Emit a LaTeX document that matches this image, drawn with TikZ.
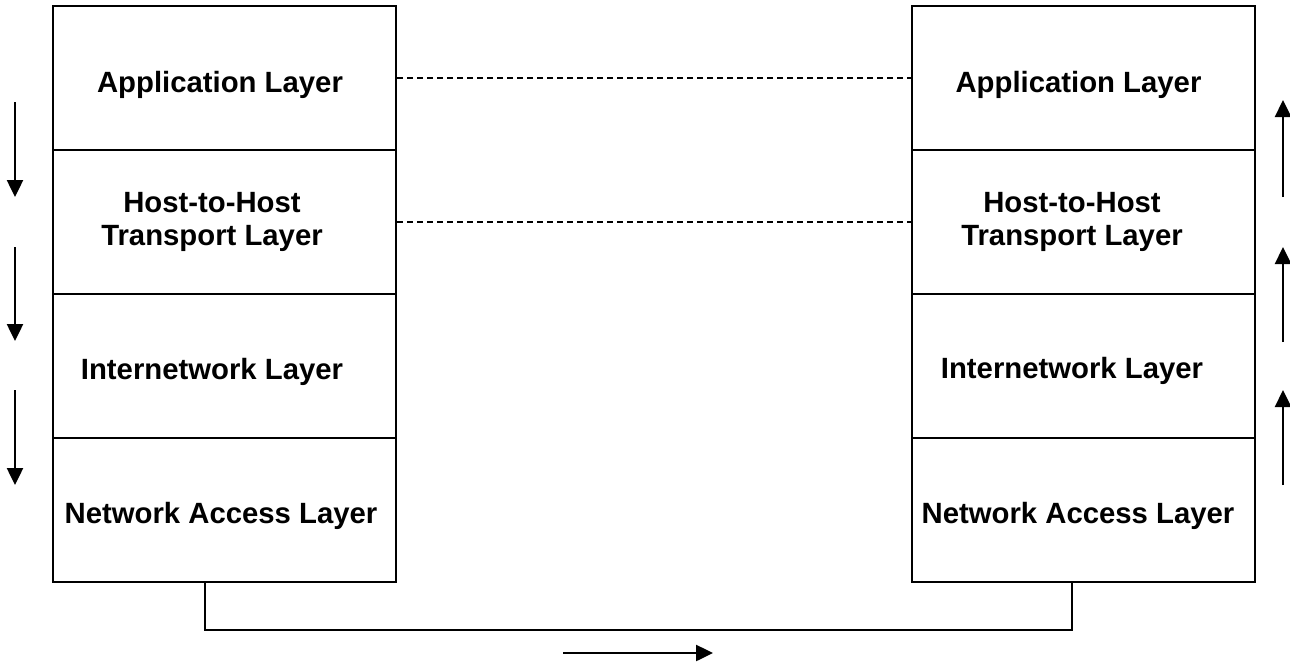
\documentclass[tikz,border=0pt]{standalone}
\usepackage{fontspec}
\setmainfont{Liberation Sans}
\usetikzlibrary{arrows.meta}
\begin{document}
\begin{tikzpicture}[x=1pt,y=-1pt,
  layer/.style={draw, line width=2pt, minimum width=343pt, minimum height=144pt, inner sep=0pt},
  txt/.style={anchor=base, inner sep=0pt, font=\fontsize{29.3}{33}\selectfont\bfseries},
  peer/.style={line width=1.2pt, dash pattern=on 6pt off 4pt},
  flow/.style={line width=2.5pt, -{Triangle[length=17pt,width=16pt]}},
  wire/.style={line width=2pt}]
\useasboundingbox (0,0) rectangle (1290,664);
% left stack
\node[layer] (l1) at (224.5,78)  {};
\node[layer] (l2) at (224.5,222) {};
\node[layer] (l3) at (224.5,366) {};
\node[layer] (l4) at (224.5,510) {};
\node[txt] (tl1)  at (220,92)  {Application Layer};
\node[txt] (tl2a) at (212,212) {Host-to-Host};
\node[txt] (tl2b) at (212,245) {Transport Layer};
\node[txt] (tl3)  at (212,379) {Internetwork Layer};
\node[txt] (tl4)  at (221,523) {Network Access Layer};
% right stack
\node[layer] (r1) at (1083,78)  {};
\node[layer] (r2) at (1083,222) {};
\node[layer] (r3) at (1083,366) {};
\node[layer] (r4) at (1083,510) {};
\node[txt] (tr1)  at (1078.5,92) {Application Layer};
\node[txt] (tr2a) at (1072,212)  {Host-to-Host};
\node[txt] (tr2b) at (1072,245)  {Transport Layer};
\node[txt] (tr3)  at (1072,378)  {Internetwork Layer};
\node[txt] (tr4)  at (1078,523)  {Network Access Layer};
% peer links
\draw[peer] (l1.east) -- (r1.west);
\draw[peer] (l2.east) -- (r2.west);
% physical link
\coordinate (b1) at (205,582);
\coordinate (b2) at (1072,582);
\coordinate (bb) at (1072,630);
\draw[wire] (b1) |- (bb) -- (b2);
% bottom arrow
\coordinate (h1) at (563,653);
\coordinate (h2) at (713,653);
\draw[flow] (h1) -- (h2);
% left down arrows
\coordinate (d1a) at (15,102); \coordinate (d1b) at (15,197);
\coordinate (d2a) at (15,247); \coordinate (d2b) at (15,341);
\coordinate (d3a) at (15,390); \coordinate (d3b) at (15,485);
\draw[flow] (d1a) -- (d1b);
\draw[flow] (d2a) -- (d2b);
\draw[flow] (d3a) -- (d3b);
% right up arrows
\coordinate (u1a) at (1283,197); \coordinate (u1b) at (1283,100);
\coordinate (u2a) at (1283,342); \coordinate (u2b) at (1283,247);
\coordinate (u3a) at (1283,485); \coordinate (u3b) at (1283,390);
\draw[flow] (u1a) -- (u1b);
\draw[flow] (u2a) -- (u2b);
\draw[flow] (u3a) -- (u3b);
\end{tikzpicture}
\end{document}
